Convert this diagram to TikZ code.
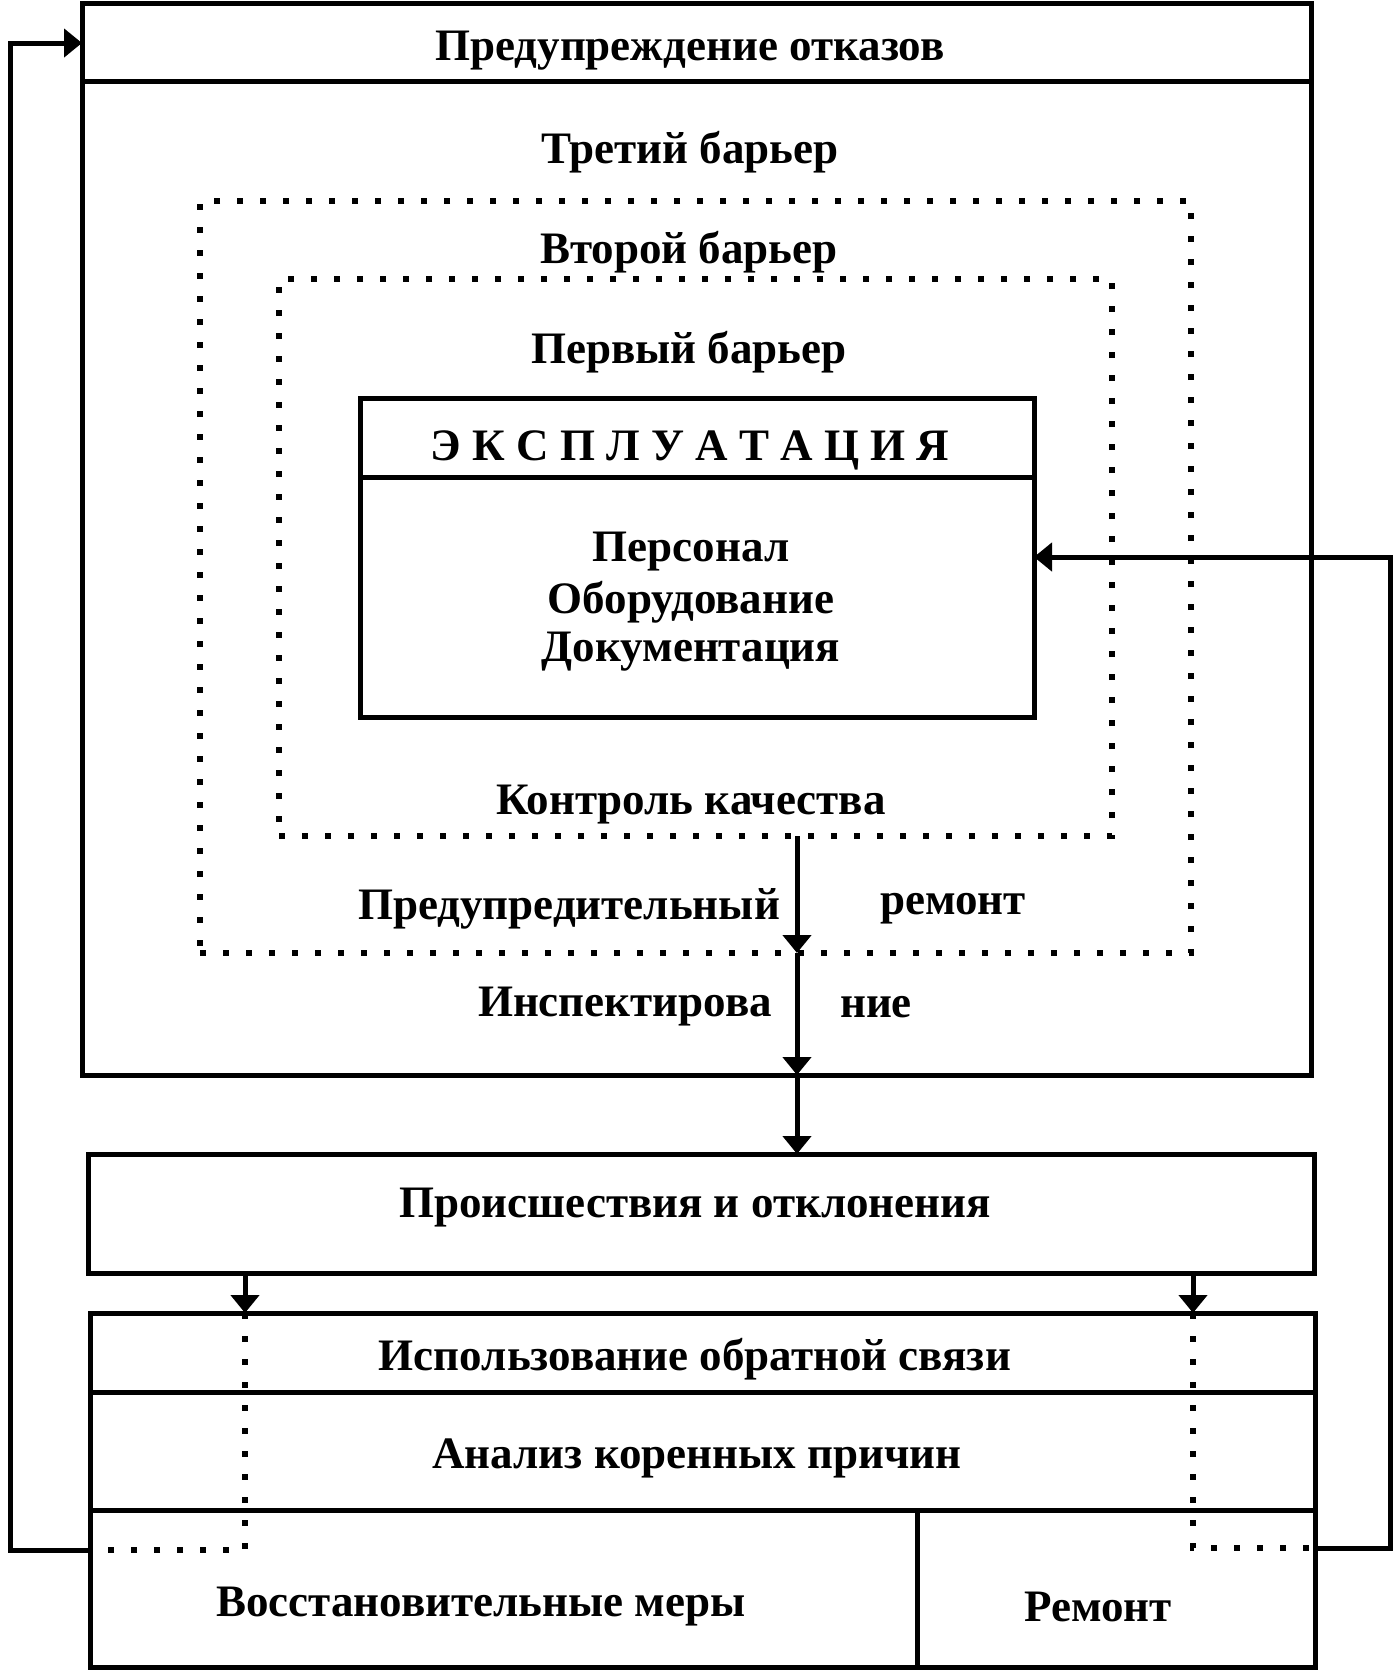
\documentclass[tikz,border=0pt]{standalone}
\usepackage{fontspec}
\setmainfont{Liberation Serif}
\usetikzlibrary{arrows.meta,fit}
\newcommand{\lsp}{\hspace{0.25em}}
\begin{document}
\begin{tikzpicture}[x=0.5pt,y=-0.5pt,
  frame/.style={draw,line width=2.5pt,inner sep=0pt,outer sep=0pt},
  dotbox/.style={draw,line width=2.7pt,dash pattern=on 3pt off 8.5pt,inner sep=0pt,outer sep=0pt},
  lbl/.style={font=\fontsize{22.5}{27}\selectfont\bfseries,inner sep=0pt,align=center},
  conn/.style={line width=2.5pt},
  arr/.style={conn,-{Triangle[width=14pt,length=9pt]}},
  dotln/.style={line width=2.7pt,dash pattern=on 3pt off 8.5pt}]
\useasboundingbox (0,0) rectangle (1398,1672);
% boxes
\node[frame, fit={(82,3) (1311,1075)}] (outer) {};
\node[frame, fit={(82,3) (1311,81)}] (hdr) {};
\node[dotbox, fit={(200,201) (1191,953)}] (bar2) {};
\node[dotbox, fit={(279,279) (1112,836)}] (bar1) {};
\node[frame, fit={(360,398) (1034,717)}] (expl) {};
\node[frame, fit={(360,398) (1034,477)}] (explh) {};
\node[frame, fit={(88,1154) (1314,1273)}] (inc) {};
\node[frame, fit={(90,1313) (1315,1392)}] (fb) {};
\node[frame, fit={(90,1392) (1315,1510)}] (an) {};
\node[frame, fit={(90,1510) (917,1667)}] (vm) {};
\node[frame, fit={(917,1510) (1315,1667)}] (rem) {};
% labels
\node[lbl] (t0) at (690,51) {Предупреждение отказов};
\node[lbl] (t3) at (690,152) {Третий барьер};
\node[lbl] (t2) at (689,252) {Второй барьер};
\node[lbl] (t1) at (689,352) {Первый барьер};
\node[lbl] (te) at (690,450) {Э\lsp К\lsp С\lsp П\lsp Л\lsp У\lsp А\lsp Т\lsp А\lsp Ц\lsp И\lsp Я};
\node[lbl] (tp1) at (691,552) {Персонал};
\node[lbl] (tp2) at (691,602) {Оборудование};
\node[lbl] (tp3) at (691,652) {Документация};
\node[lbl] (tk) at (691,805) {Контроль качества};
\node[lbl] (tr1) at (569,909) {Предупредительный};
\node[lbl] (tr2) at (953,909) {ремонт};
\node[lbl] (ti1) at (625,1007) {Инспектирова};
\node[lbl] (ti2) at (876,1007) {ние};
\node[lbl] (tinc) at (695,1208) {Происшествия и отклонения};
\node[lbl] (tfb) at (695,1359) {Использование обратной связи};
\node[lbl] (tan) at (697,1458) {Анализ коренных причин};
\node[lbl] (tvm) at (481,1607) {Восстановительные меры};
\node[lbl] (trem) at (1098,1607) {Ремонт};
% helper coordinates
\coordinate (mx) at (797,0);
\coordinate (lx) at (245,0);
\coordinate (ly) at (0,1550);
\coordinate (fx) at (10,0);
\coordinate (ay) at (0,43);
\coordinate (rx) at (1193,0);
\coordinate (ry) at (0,1548);
\coordinate (gx) at (1390,0);
\coordinate (by) at (0,557);
% connectors
\draw[arr] (bar1.south -| mx) -- (bar2.south -| mx);
\draw[arr] (bar2.south -| mx) -- (outer.south -| mx);
\draw[arr] (outer.south -| mx) -- (inc.north -| mx);
\draw[arr] (inc.south -| lx) -- (fb.north -| lx);
\draw[dotln] (fb.north -| lx) -- (lx |- ly) -- (vm.west |- ly);
\draw[arr] (vm.west |- ly) -- (fx |- ly) -- (fx |- ay) -- (outer.west |- ay);
\draw[arr] (inc.south -| rx) -- (fb.north -| rx);
\draw[dotln] (fb.north -| rx) -- (rx |- ry) -- (rem.east |- ry);
\draw[arr] (rem.east |- ry) -- (gx |- ry) -- (gx |- by) -- (expl.east |- by);
\end{tikzpicture}
\end{document}
